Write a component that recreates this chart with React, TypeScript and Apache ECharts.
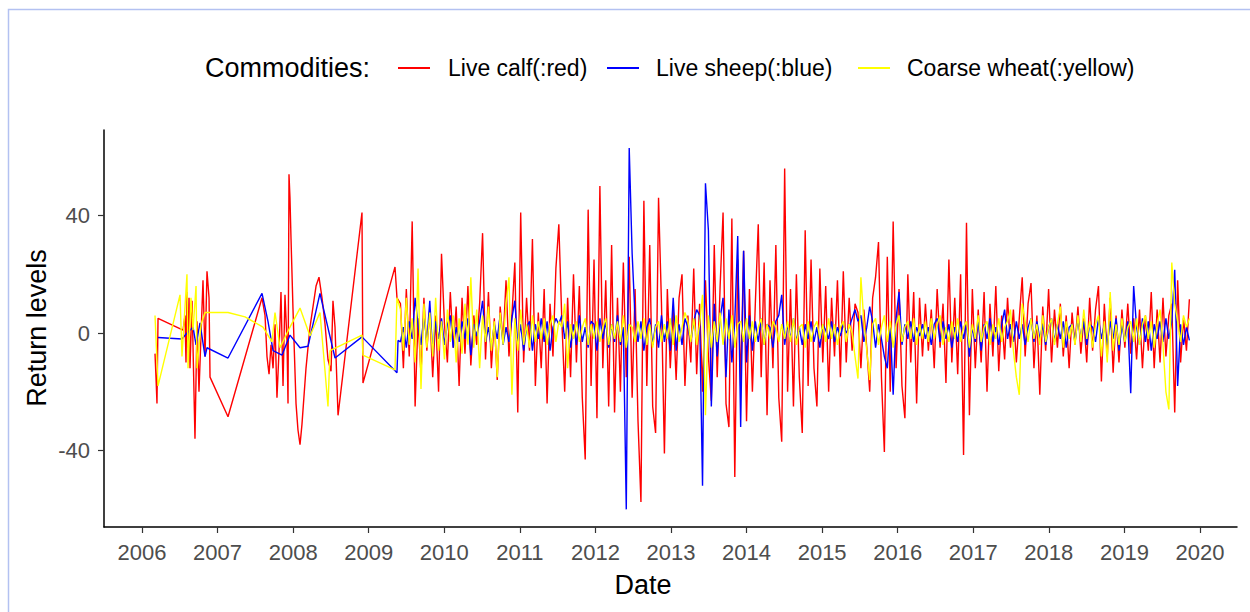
import React, { useEffect, useRef } from "react";
import * as echarts from "echarts";

// ---- tick labels ----
const yearTicks = [2006, 2007, 2008, 2009, 2010, 2011, 2012, 2013, 2014, 2015, 2016, 2017, 2018, 2019, 2020];
const yTicks = [-40, 0, 40];

// ---- sparse early observations (decimal years) ----
const calfEarlyDates = [2006.172, 2006.185, 2006.198, 2006.212, 2006.543, 2006.569, 2006.582, 2006.595, 2006.609, 2006.622, 2006.635, 2006.662, 2006.701, 2006.728, 2006.754, 2006.807, 2006.834, 2006.86, 2006.887, 2006.9, 2007.138, 2007.588, 2007.628, 2007.654, 2007.681, 2007.707, 2007.734, 2007.76, 2007.786, 2007.813, 2007.839, 2007.866, 2007.892, 2007.919, 2007.932, 2007.945, 2007.958, 2007.972, 2007.998, 2008.038, 2008.064, 2008.091, 2008.117, 2008.17, 2008.223, 2008.303, 2008.342, 2008.382, 2008.422, 2008.461, 2008.501, 2008.527, 2008.554, 2008.594, 2008.911, 2008.924, 2009.348, 2009.374];
const calfEarly = [-7, -15, -24, 5, 1, 6, -10, 14, -5, 12, -12, 11, -36, 4, -20, 18, -8, 21, 12, -15, -28.5, 12, 6, -8, -14, -4, -12, 3, -22, -6, 14, -18, 13, -3, -24, 54, 46, 32, 8, -24, -33, -38, -31, -12, 2, 16, 19, 12, 3, -9, -13, 11, 2, -28, 41, -17, 22.5, 12];

const sheepEarlyDates = [2006.212, 2006.529, 2006.595, 2006.675, 2006.715, 2006.767, 2006.834, 2006.86, 2007.138, 2007.588, 2007.667, 2007.734, 2007.853, 2007.958, 2008.091, 2008.197, 2008.355, 2008.395, 2008.554, 2008.911, 2009.374, 2009.388];
const sheepEarly = [-1.5, -2, 0, 2, -4, 3.5, -8, -5, -8.5, 13.5, 4, -6, -7.5, -0.7, -5, -4.5, 13.5, 9, -8.5, -1.3, -13.5, -2.5];

const wheatEarlyDates = [2006.172, 2006.212, 2006.503, 2006.529, 2006.595, 2006.609, 2006.648, 2006.675, 2006.715, 2006.728, 2006.781, 2006.834, 2007.138, 2007.363, 2007.601, 2007.72, 2007.76, 2007.826, 2007.958, 2008.091, 2008.223, 2008.355, 2008.422, 2008.461, 2008.488, 2008.911, 2008.924, 2009.348, 2009.374];
const wheatEarly = [6, -18, 13, -8, 20, -12, 12, 1, 16, -12, 3, 7, 7, 5.5, 2, -3, 7, -5, 2, 8.5, -1, 7, -13, -25, -6, -0.7, -7.5, -12.5, 12];

// ---- regular observations from mid-2009 ----
const regularStart = 2009.42;
const regularStep = 0.03881;

const calfRegular = [
  10, -12, 15, -8, 38, -25, 5, -14, 12, -6,
  8, -15, 6, -20, 27, 3, -10, 14, -5, 9,
  -18, 12, -7, 16, -11, 6, -4, 10, 34, -9,
  14, -12, 5, -16, 9, -3, 18, -8, 6, 24,
  -27, 41, -10, 12, -6, 32, -18, 7, -12, 15,
  -24, 10, -8, 22, 37, 5, -20, 12, -15, 20,
  -10, 16, -22, -43, 42, -18, 25, -29, 50, -12,
  18, -25, 30, -27, 12, -20, 24, -15, 26, -22,
  15, -30, -57.5, 45, -18, 30, -25, -34, 46, 10,
  -41, 15, -12, 8, -16, 12, 20, -18, 6, -10,
  22, -14, 10, -20, 18, -8, -23, 30, -15, 16,
  41, -24, -32, 39, -49, 25, -18, 28, -30, 15,
  -20, 10, 37, -15, 24, -28, 18, -12, 30, -22,
  -37, 56, -20, 15, -25, 20, -15, -34, 35, -18,
  25, -12, -25, 22, -10, 16, -20, 12, -8, 18,
  -15, 21, -10, 12, -6, 10, 7, -12, 8, -5,
  -20, 12, 19, 31, -15, -40.5, 26, -20, 38, -12,
  15, -18, -29, 20, -10, 14, -24, 12, -8, 10,
  -6, 8, -12, 15, -5, 10, -17, 25, -10, 12,
  -14, 20, -41.5, 37.5, -28, 15, -12, 8, -10, 14,
  -20, 10, -8, 16, -13, 6, -9, 12, -5, 8,
  -10, 5, 19, -8, 10, 17, -12, 6, -21, 9,
  -6, 15, -10, 8, -5, 10, -8, 6, -12, 7,
  -4, 9, -7, 5, -10, 12, -6, 8, 16, -16.5,
  10, -8, 12, -13.5, 6, -10, 8, -5, 10, -7,
  5, -9, 8, -12, 6, -6, 14, -12, 8, -10,
  12, -8, 6, 10, -27, 18, -10, 5, -6, 11.5,
];

const sheepRegular = [
  -3, 2, -5, 4, -2, 12, 3, -4, 6, -3,
  11, -7, 4, -2, 5, -4, 3, 6, -5, 2,
  -3, 4, -2, 5, -7.5, 3, -1, 4, 11, -3,
  2, -5, 3, -2, 6, -4, 2, -3, 5, 11,
  -4, 3, -6, 2, 4, -6, 3, -2, 5, -3,
  4, -6, 2, 5, 3, 6, -2, 4, -5, 3,
  -4, 6, -3, 2, -5, 4, 3, -6, 5, -2,
  4, -5, 3, -3, 6, -4, 2, -60, 63, 27,
  5, -3, 4, -6, 2, 5, -4, 3, -5, 6,
  -3, 4, -6, 12, -6, 3, -4, 5, 2, -3,
  4, 8, 6, -52, 51, 35, -25, 10, -8, 5,
  12, -15, 8, -10, 4, 33, -32, 28, -10, 6,
  -6, 4, -3, 5, -4, 3, 2, -5, 4, 6,
  13, -4, 3, -2, 5, -3, 2, -4, 3, -2,
  4, -3, 2, -5, 3, 1, -2, 4, -3, 2,
  -1, 3, 0, 2, 5, 8, 4, 6, -3, 2,
  9, 4, -5, 3, -2, -8, -12, 3, -21, 5,
  14, -4, 3, -2, 4, -3, 2, -1, 3, -2,
  2, -4, 3, 5, -3, 4, -2, 3, -5, 2,
  -3, 4, -2, 3, -8, 2, -3, 4, -6, 3,
  -2, 5, -3, 2, -4, 3, 8, -2, 3, -3,
  4, -2, 3, -4, 2, 5, -3, 4, -2, 3,
  -4, 2, 5, -3, 3, -2, 4, -5, 2, 3,
  -3, 5, -2, 4, -4, 3, 2, -3, 5, -2,
  3, -4, 4, -2, 5, -6, 3, -3, 4, -20.5,
  16, 2, -4, 5, -3, 4, -6, 3, -2, 4,
  -3, 5, -2, 4, 21.5, -18, 3, -4, 2, -2.5,
];

const wheatRegular = [
  8, -6, 12, -4, 5, -10, 22, -19, 10, -5,
  7, -8, 12, -6, 4, -9, 8, -3, 6, -10,
  5, -7, 10, -4, 19, -5, 8, -12, 6, -3,
  9, -6, 4, -15, 7, -4, 10, 19, -21, 5,
  -6, 8, -4, 3, -5, 6, -3, 4, -2, 5,
  -4, 3, 6, -3, 4, 2, 10, -12, 3, -2,
  4, -3, 2, 5, -4, 3, -2, 4, -3, 2,
  5, -4, 3, -2, 4, -3, 6, -5, 3, 2,
  -3, 4, -2, 5, -4, 3, -5, 2, 4, -3,
  3, -2, 5, -4, 6, -3, 2, 7, 4, -3,
  5, -4, 3, 13, -28, 6, -5, 4, -3, 7,
  -4, 5, -2, 6, -5, 3, 4, -3, 5, -2,
  4, -3, 2, 5, -4, 3, -2, 4, 2, -3,
  3, -2, 4, -3, 5, -4, 2, 3, -5, 4,
  -3, 2, 4, -2, 3, -3, 5, -2, 3, -4,
  2, 4, -3, 3, 0, -8, -15.5, 19, 4, -6,
  -16, 3, 5, -4, 2, 6, -3, 4, -5, 3,
  6, -3, 2, 4, -2, 5, -4, 3, -2, 4,
  -3, 5, -2, 3, 6, -4, 2, -3, 4, -2,
  5, -3, 2, 4, -5, 3, -2, 6, -3, 2,
  4, -4, 3, -2, 5, -3, 2, 4, 8, -6,
  -15, -21, 10, 4, -3, 5, -2, 3, -4, 6,
  -3, 2, 5, -4, 3, 9, -5, 4, -2, 3,
  -4, 6, -3, 8, -2, 4, -5, 3, 6, -8,
  4, -10, 14, -6, 3, -4, 5, -3, 2, 4,
  -3, 5, -4, 3, 6, -2, 4, -5, 3, 8,
  -4, -20, -26, 24, 10, 4, -3, 6, 2, 5,
];

const seriesNames = ["Live calf(:red)", "Live sheep(:blue)", "Coarse wheat(:yellow)"];
const seriesColors = ["#ff0000", "#0000ff", "#ffff00"];

function buildSeries(earlyDates: number[], early: number[], regular: number[]) {
  const pts: [number, number][] = [];
  earlyDates.forEach((d, i) => pts.push([d, early[i]]));
  regular.forEach((v, i) => pts.push([regularStart + i * regularStep, v]));
  return pts;
}

const FONT = "'Liberation Sans', Arial, sans-serif";

export default function App() {
  const ref = useRef<HTMLDivElement>(null);
  useEffect(() => {
    if (!ref.current) return;
    const chart = echarts.init(ref.current, undefined, { renderer: "svg" });
    const data = [
      buildSeries(calfEarlyDates, calfEarly, calfRegular),
      buildSeries(sheepEarlyDates, sheepEarly, sheepRegular),
      buildSeries(wheatEarlyDates, wheatEarly, wheatRegular),
    ];
    const legendX = [
      { line: 398, text: 448 },
      { line: 607, text: 656 },
      { line: 858, text: 907 },
    ];
    const legendY = 68;
    const graphics: any[] = [
      {
        type: "rect",
        silent: true,
        shape: { x: 8.5, y: 9.5, width: 1400, height: 800 },
        style: { fill: "none", stroke: "#b3c1f1", lineWidth: 1.5 },
      },
      {
        type: "text",
        x: 205,
        y: legendY,
        style: { text: "Commodities:", font: `27px ${FONT}`, fill: "#000", verticalAlign: "middle", align: "left" },
      },
      {
        type: "text",
        x: 643,
        y: 585,
        style: { text: "Date", font: `27px ${FONT}`, fill: "#000", verticalAlign: "middle", align: "center" },
      },
      {
        type: "text",
        x: 37,
        y: 328,
        rotation: Math.PI / 2,
        style: { text: "Return levels", font: `27px ${FONT}`, fill: "#000", verticalAlign: "middle", align: "center" },
      },
    ];
    seriesNames.forEach((name, i) => {
      graphics.push({
        type: "line",
        shape: { x1: legendX[i].line, y1: legendY, x2: legendX[i].line + 32, y2: legendY },
        style: { stroke: seriesColors[i], lineWidth: 2 },
      });
      graphics.push({
        type: "text",
        x: legendX[i].text,
        y: legendY,
        style: { text: name, font: `23px ${FONT}`, fill: "#000", verticalAlign: "middle", align: "left" },
      });
    });

    chart.setOption({
      animation: false,
      backgroundColor: "#ffffff",
      grid: { left: 104, top: 130, right: 13, bottom: 85, containLabel: false },
      xAxis: {
        type: "value",
        min: 2005.497,
        max: 2020.49,
        splitLine: { show: false },
        axisLine: { show: true, onZero: false, lineStyle: { color: "#000", width: 1.5 } },
        axisTick: { show: true, length: 6, customValues: yearTicks, lineStyle: { color: "#333", width: 1.2 } },
        axisLabel: {
          customValues: yearTicks,
          color: "#4d4d4d",
          fontSize: 22,
          fontFamily: FONT,
          margin: 14,
          formatter: (v: number) => String(Math.round(v)),
        },
      },
      yAxis: {
        type: "value",
        min: -66,
        max: 69.1,
        splitLine: { show: false },
        axisLine: { show: true, onZero: false, lineStyle: { color: "#000", width: 1.5 } },
        axisTick: { show: true, length: 6, customValues: yTicks, lineStyle: { color: "#333", width: 1.2 } },
        axisLabel: {
          customValues: yTicks,
          color: "#4d4d4d",
          fontSize: 22,
          fontFamily: FONT,
          margin: 14,
          formatter: (v: number) => String(Math.round(v)),
        },
      },
      graphic: graphics,
      series: data.map((d, i) => ({
        name: seriesNames[i],
        type: "line",
        data: d,
        showSymbol: false,
        symbol: "none",
        lineStyle: { color: seriesColors[i], width: 1.4 },
        itemStyle: { color: seriesColors[i] },
        emphasis: { disabled: true },
        z: 2 + i,
      })),
    });
    return () => chart.dispose();
  }, []);
  return (
    <div
      ref={ref}
      style={{ position: "absolute", left: 0, top: 0, width: 1250, height: 612, background: "#fff" }}
    />
  );
}
